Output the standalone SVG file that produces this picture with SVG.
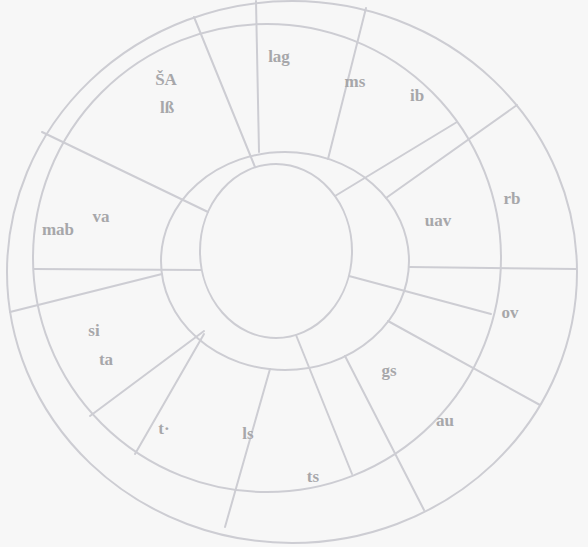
<svg xmlns="http://www.w3.org/2000/svg" width="588" height="547" viewBox="0 0 588 547">
  <style>
    .ring { fill: none; stroke: #cdcdd3; stroke-width: 2; }
    .div { stroke: #cdcdd3; stroke-width: 2; fill: none; stroke-linecap: round; }
    .lbl { font-family: "Liberation Serif", "DejaVu Serif", serif; font-weight: bold; font-size: 17px; fill: #a7a7aa; text-anchor: middle; dominant-baseline: central; }
  </style>
  <rect x="0" y="0" width="588" height="547" fill="#f7f7f7"/>
  <g id="rings">
    <ellipse class="ring" cx="292" cy="272" rx="285" ry="271"/>
    <ellipse class="ring" cx="267" cy="258" rx="234" ry="234"/>
    <ellipse class="ring" cx="285" cy="261" rx="124" ry="109"/>
    <ellipse class="ring" cx="276" cy="251" rx="76" ry="87"/>
  </g>
  <g id="connectors">
    <line class="div" x1="256" y1="1" x2="259" y2="152"/>
    <line class="div" x1="194" y1="17" x2="255" y2="167"/>
    <line class="div" x1="366" y1="8" x2="328" y2="159"/>
    <line class="div" x1="457" y1="122" x2="335" y2="196"/>
    <line class="div" x1="517" y1="105" x2="386" y2="198"/>
    <line class="div" x1="42" y1="132" x2="208" y2="212"/>
    <line class="div" x1="34" y1="269" x2="201" y2="270"/>
    <line class="div" x1="10" y1="312" x2="162" y2="274"/>
    <line class="div" x1="90" y1="416" x2="204" y2="331"/>
    <line class="div" x1="135" y1="454" x2="204" y2="334"/>
    <line class="div" x1="225" y1="527" x2="270" y2="369"/>
    <line class="div" x1="352" y1="474" x2="296" y2="335"/>
    <line class="div" x1="424" y1="510" x2="345" y2="356"/>
    <line class="div" x1="540" y1="405" x2="388" y2="321"/>
    <line class="div" x1="491" y1="314" x2="349" y2="276"/>
    <line class="div" x1="576" y1="269" x2="409" y2="267"/>
  </g>
  <g id="label-lag"><text class="lbl" x="279" y="56">lag</text></g>
  <g id="label-ms"><text class="lbl" x="355" y="81">ms</text></g>
  <g id="label-ib"><text class="lbl" x="417" y="95">ib</text></g>
  <g id="label-sa"><text class="lbl" x="166" y="79">ŠA</text><text class="lbl" x="167" y="107">lß</text></g>
  <g id="label-va"><text class="lbl" x="101" y="216">va</text></g>
  <g id="label-mab"><text class="lbl" x="58" y="229">mab</text></g>
  <g id="label-uav"><text class="lbl" x="438" y="220">uav</text></g>
  <g id="label-rb"><text class="lbl" x="512" y="198">rb</text></g>
  <g id="label-ov"><text class="lbl" x="510" y="312">ov</text></g>
  <g id="label-si"><text class="lbl" x="94" y="330">si</text><text class="lbl" x="106" y="359">ta</text></g>
  <g id="label-gs"><text class="lbl" x="389" y="370">gs</text></g>
  <g id="label-au"><text class="lbl" x="445" y="420">au</text></g>
  <g id="label-t"><text class="lbl" x="164" y="428">t·</text></g>
  <g id="label-ls"><text class="lbl" x="248" y="433">ls</text></g>
  <g id="label-ts"><text class="lbl" x="313" y="476">ts</text></g>
</svg>
